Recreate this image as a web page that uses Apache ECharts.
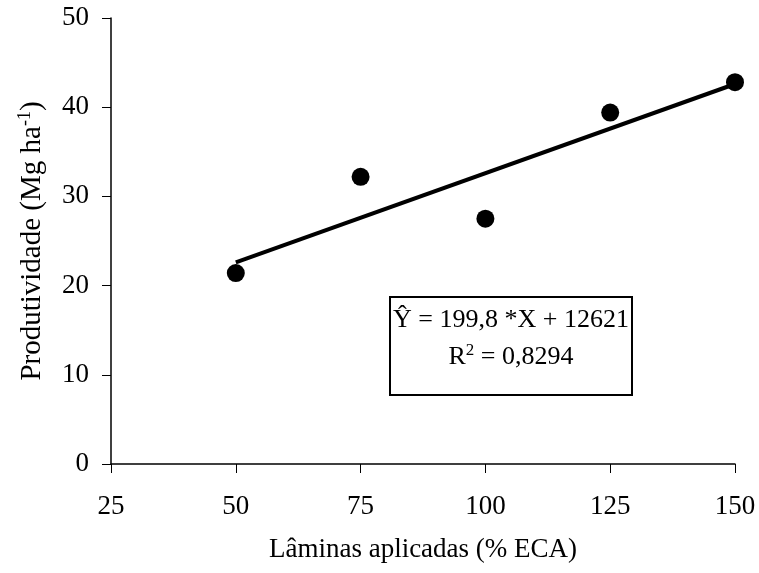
<!DOCTYPE html>
<html>
<head>
<meta charset="utf-8">
<title>Produtividade x Lâminas</title>
<script src="https://cdn.jsdelivr.net/npm/echarts@6/dist/echarts.min.js"></script>
<style>
  html, body { margin: 0; padding: 0; background: #fff; }
  #chart { width: 759px; height: 573px; }
</style>
</head>
<body>
<div id="chart"></div>
<script>
// lâminas aplicadas x produtividade
var laminas = [50, 75, 100, 125, 150];
var produtividade = [21.4, 32.2, 27.5, 39.4, 42.8];
// reta ajustada
var ajusteX = [50, 150];
var ajusteY = [22.6, 42.6];
var eqLinha1 = 'Ŷ = 199,8 *X + 12621';
var eqR2 = '0,8294';

var fonte = '"Liberation Serif", "Times New Roman", serif';

var chart = echarts.init(document.getElementById('chart'));

var pontos = laminas.map(function (x, i) { return [x, produtividade[i]]; });
var reta = ajusteX.map(function (x, i) { return [x, ajusteY[i]]; });

var option = {
    backgroundColor: '#fff',
    animation: false,
    grid: {
        left: 111,
        right: 24,
        top: 18,
        bottom: 109,
        containLabel: false
    },
    xAxis: {
        type: 'value',
        min: 25,
        max: 150,
        interval: 25,
        name: 'Lâminas aplicadas (% ECA)',
        nameLocation: 'middle',
        nameGap: 72,
        nameTextStyle: { fontFamily: fonte, fontSize: 27, color: '#000' },
        axisLine: { lineStyle: { color: '#000', width: 1.5 } },
        axisTick: { show: true, length: 9, lineStyle: { color: '#000', width: 1 } },
        axisLabel: { fontFamily: fonte, fontSize: 27, color: '#000', margin: 29 },
        splitLine: { show: false }
    },
    yAxis: {
        type: 'value',
        min: 0,
        max: 50,
        interval: 10,
        name: '{n|Produtividade (Mg ha}{s|-1}{n|)}',
        nameLocation: 'middle',
        nameRotate: 90,
        nameGap: 63,
        nameTextStyle: {
            fontFamily: fonte,
            fontSize: 29,
            color: '#000',
            rich: {
                n: { fontFamily: fonte, fontSize: 29, color: '#000', lineHeight: 32 },
                s: { fontFamily: fonte, fontSize: 18, color: '#000', verticalAlign: 'top', lineHeight: 18 }
            }
        },
        axisLine: { show: true, lineStyle: { color: '#000', width: 1.5 } },
        axisTick: { show: true, length: 9, lineStyle: { color: '#000', width: 1 } },
        axisLabel: { fontFamily: fonte, fontSize: 27, color: '#000', margin: 22 },
        splitLine: { show: false }
    },
    series: [
        {
            name: 'observado',
            type: 'scatter',
            data: pontos,
            symbol: 'circle',
            symbolSize: 18,
            itemStyle: { color: '#000', opacity: 1 },
            z: 3
        },
        {
            name: 'ajuste',
            type: 'line',
            data: reta,
            showSymbol: false,
            lineStyle: { color: '#000', width: 4 },
            z: 4
        }
    ],
    graphic: [
        {
            type: 'group',
            left: 389,
            top: 296,
            children: [
                {
                    type: 'rect',
                    shape: { x: 0, y: 0, width: 242, height: 98 },
                    style: { fill: '#fff', stroke: '#000', lineWidth: 2 }
                },
                {
                    type: 'text',
                    x: 121,
                    y: 23,
                    style: {
                        text: eqLinha1,
                        fontFamily: fonte,
                        fontSize: 26,
                        fill: '#000',
                        align: 'center',
                        verticalAlign: 'middle'
                    }
                },
                {
                    type: 'text',
                    x: 121,
                    y: 60,
                    style: {
                        text: '{n|R}{s|2}{n| = ' + eqR2 + '}',
                        fontFamily: fonte,
                        fontSize: 26,
                        fill: '#000',
                        align: 'center',
                        verticalAlign: 'middle',
                        rich: {
                            n: { fontFamily: fonte, fontSize: 26, fill: '#000', lineHeight: 30 },
                            s: { fontFamily: fonte, fontSize: 17, fill: '#000', verticalAlign: 'top', lineHeight: 16 }
                        }
                    }
                }
            ]
        }
    ]
};

chart.setOption(option);

window.onresize = function () {
    chart.resize();
};
</script>
</body>
</html>
